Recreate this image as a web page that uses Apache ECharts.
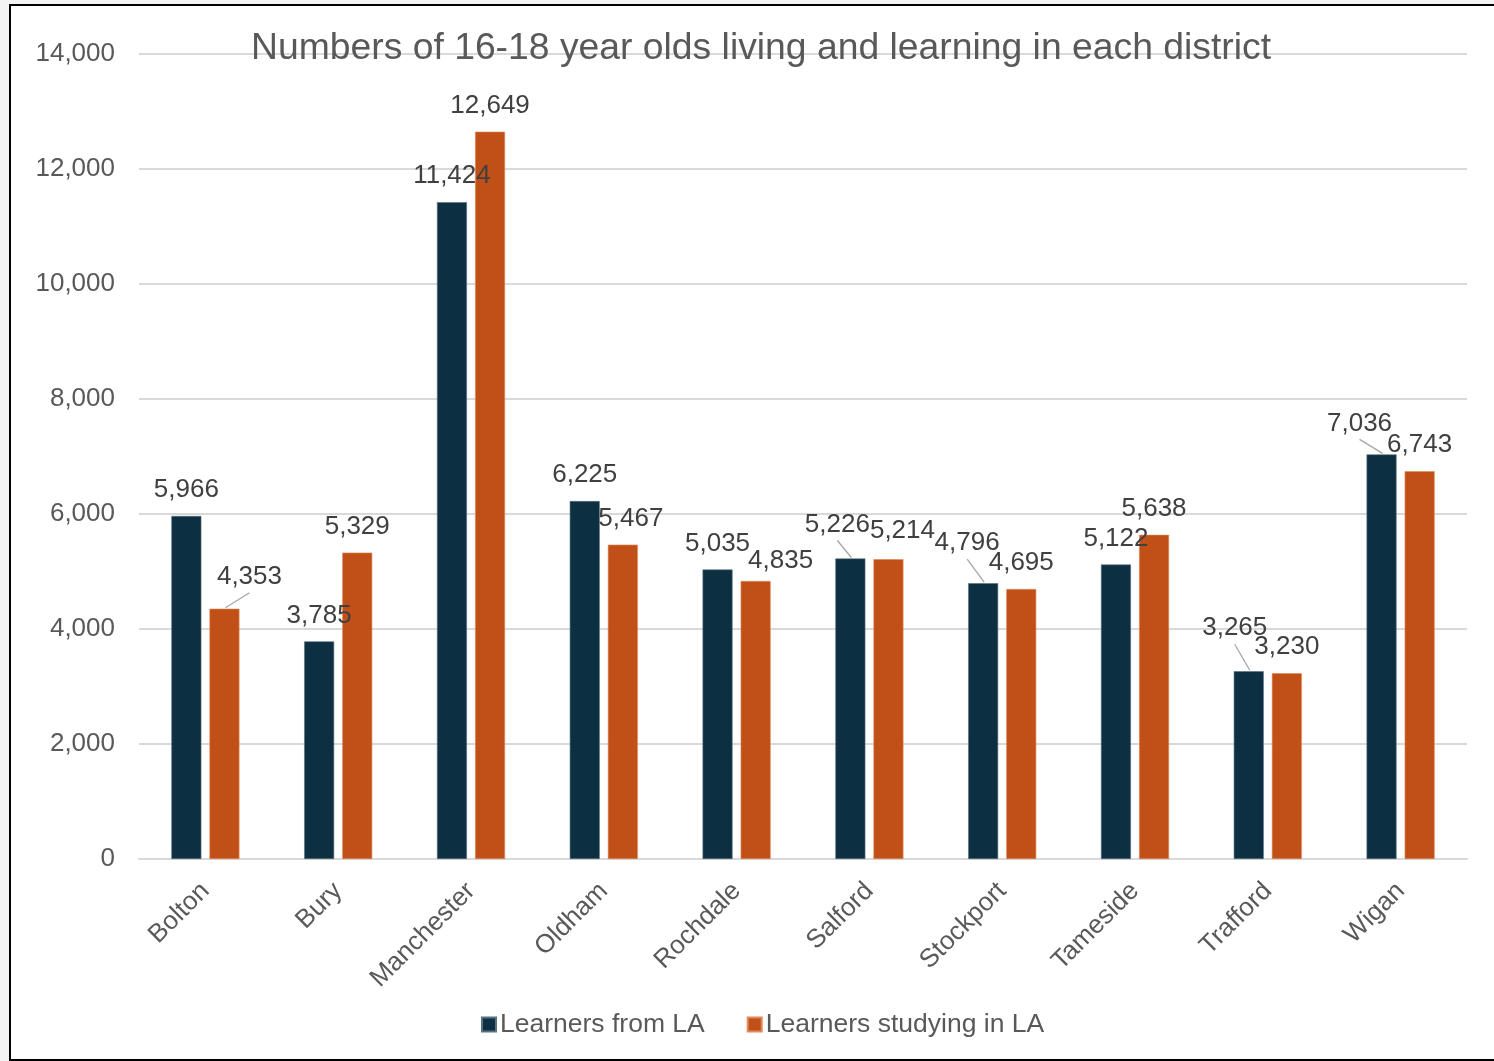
<!DOCTYPE html>
<html><head><meta charset="utf-8">
<script src="https://cdn.jsdelivr.net/npm/echarts@6/dist/echarts.min.js"></script>
<style>
html,body{margin:0;padding:0;background:#f3f3f3;width:1494px;height:1061px;overflow:hidden;}
#frame{position:absolute;left:9px;top:4px;width:1500px;height:1053px;border:2px solid #000;background:#fff;}
#c{position:absolute;left:0;top:0;width:1494px;height:1061px;}
</style></head>
<body>
<div id="frame"></div>
<div id="c"></div>
<script>
const categories = ['Bolton','Bury','Manchester','Oldham','Rochdale','Salford','Stockport','Tameside','Trafford','Wigan'];
const learnersFrom = [5966,3785,11424,6225,5035,5226,4796,5122,3265,7036];
const learnersStudying = [4353,5329,12649,5467,4835,5214,4695,5638,3230,6743];
const yTicks = {min:0, max:14000, interval:2000};

// label adjustments (moved labels in the reference): [dx, dy, leaderLine]
const movedFrom = {5:[-13,-8,true], 6:[-16,-14,true], 8:[-14,-17,true], 9:[-22,-5,true]};
const movedStudying = {0:[25,-6,true], 3:[8,0,false], 4:[25,6,false], 5:[14,-2,false]};

const font = 'Liberation Sans, Arial, sans-serif';
const chart = echarts.init(document.getElementById('c'), null, {renderer:'canvas'});

function layoutFn(moved){
  return function(p){
    const m = moved[p.dataIndex];
    if(!m) return {};
    return {dx:m[0], dy:m[1]};
  };
}
const labelCfg = {show:true, position:'top', distance:13, color:'#404040', fontSize:26, fontFamily:font,
  formatter:p=>p.value.toLocaleString('en-US')};

chart.setOption({
  backgroundColor:'transparent',
  animation:false,
  title:{text:'Numbers of 16-18 year olds living and learning in each district', left:756, textAlign:'center', top:25,
    textStyle:{color:'#595959', fontSize:37.3, fontWeight:'normal', fontFamily:font}},
  legend:{bottom:18, left:476, itemWidth:14, itemHeight:14, itemGap:42, icon:'rect',
    textStyle:{color:'#595959', fontSize:26.5, fontFamily:font, padding:[0,0,0,-1]},
    data:['Learners from LA','Learners studying in LA']},
  grid:{left:139, right:27, top:54, bottom:202},
  xAxis:{type:'category', data:categories,
    axisLine:{lineStyle:{color:'#d9d9d9', width:2}}, axisTick:{show:false},
    axisLabel:{rotate:45, color:'#595959', fontSize:26, fontFamily:font, margin:28, interval:0}},
  yAxis:{type:'value', min:yTicks.min, max:yTicks.max, interval:yTicks.interval,
    axisLine:{show:false}, axisTick:{show:false},
    splitLine:{lineStyle:{color:'#d9d9d9', width:2}},
    axisLabel:{color:'#595959', fontSize:26, fontFamily:font, margin:24,
      formatter:v=>v.toLocaleString('en-US')}},
  series:[
    {name:'Learners from LA', type:'bar', data:learnersFrom,
     barWidth:30, barGap:'27%', itemStyle:{color:'#0c2f41', borderColor:'#5a7280', borderWidth:0.6},
     label:labelCfg, labelLayout:layoutFn(movedFrom)},
    {name:'Learners studying in LA', type:'bar', data:learnersStudying,
     barWidth:30, itemStyle:{color:'#c05017', borderColor:'#e08a5a', borderWidth:0.6},
     label:labelCfg, labelLayout:layoutFn(movedStudying)}
  ]
});

// leader lines for moved labels, positioned from the bars' own layout
const lines = [];
[[0,movedFrom],[1,movedStudying]].forEach(([si,moved])=>{
  const data = chart.getModel().getSeriesByIndex(si).getData();
  Object.keys(moved).forEach(k=>{
    const m = moved[k];
    if(!m[2]) return;
    const lay = data.getItemLayout(+k);
    const cx = lay.x + lay.width/2;
    const top = Math.min(lay.y, lay.y + lay.height);
    lines.push({type:'line', silent:true, z:10,
      shape:{x1:cx + m[0], y1:top - 26 + m[1] + 16, x2:cx + 1, y2:top - 1},
      style:{stroke:'#a6a6a6', lineWidth:1.3}});
  });
});
chart.setOption({graphic:lines});
</script>
</body></html>
